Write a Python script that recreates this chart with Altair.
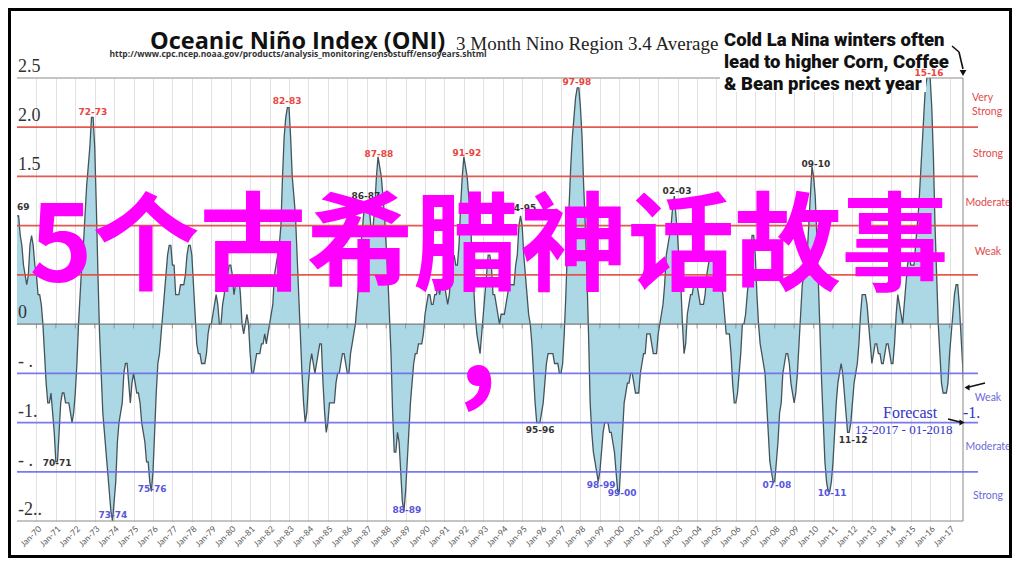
import altair as alt
import pandas as pd

# ---------------- data: ONI monthly values (3-month running means) ----------------
oni_1969_1978 = [
    1.1, 1.1, 0.9, 0.8, 0.6, 0.5, 0.4, 0.5, 0.8, 0.9, 0.8, 0.6,        # 1969
    0.5, 0.3, 0.3, 0.2, 0.0, -0.3, -0.6, -0.8, -0.8, -0.7, -0.9, -1.1,  # 1970
    -1.4, -1.4, -1.1, -0.8, -0.7, -0.7, -0.8, -0.8, -0.8, -0.9, -1.0, -0.9,  # 1971
    -0.7, -0.4, 0.0, 0.3, 0.6, 0.8, 1.1, 1.4, 1.6, 1.8, 2.1, 2.1,      # 1972
    1.8, 1.2, 0.5, -0.1, -0.5, -0.9, -1.1, -1.3, -1.5, -1.7, -1.9, -2.0,  # 1973
    -1.8, -1.6, -1.2, -1.0, -0.9, -0.8, -0.5, -0.4, -0.4, -0.6, -0.8, -0.6,  # 1974
    -0.5, -0.6, -0.7, -0.7, -0.8, -1.0, -1.1, -1.2, -1.4, -1.4, -1.6, -1.7,  # 1975
    -1.5, -1.1, -0.7, -0.4, -0.3, -0.1, 0.1, 0.3, 0.5, 0.7, 0.8, 0.8,  # 1976
    0.6, 0.6, 0.3, 0.3, 0.3, 0.4, 0.4, 0.4, 0.5, 0.7, 0.8, 0.8,        # 1977
    0.7, 0.4, 0.1, -0.2, -0.3, -0.3, -0.4, -0.4, -0.4, -0.3, -0.1, 0.0,  # 1978
]
oni_1979_1988 = [
    0.0, 0.1, 0.2, 0.3, 0.2, 0.0, 0.0, 0.2, 0.3, 0.5, 0.5, 0.6,        # 1979
    0.6, 0.5, 0.3, 0.4, 0.5, 0.5, 0.3, 0.0, -0.1, 0.0, 0.1, 0.0,       # 1980
    -0.3, -0.5, -0.5, -0.4, -0.3, -0.3, -0.3, -0.2, -0.2, -0.1, -0.2, -0.1,  # 1981
    0.0, 0.1, 0.2, 0.5, 0.6, 0.7, 0.8, 1.0, 1.5, 1.9, 2.1, 2.2,        # 1982
    2.2, 1.9, 1.5, 1.3, 1.1, 0.7, 0.3, -0.1, -0.5, -0.8, -1.0, -0.9,   # 1983
    -0.6, -0.4, -0.3, -0.4, -0.5, -0.4, -0.3, -0.2, -0.2, -0.6, -0.9, -1.1,  # 1984
    -1.0, -0.8, -0.8, -0.8, -0.8, -0.6, -0.5, -0.5, -0.4, -0.3, -0.3, -0.4,  # 1985
    -0.5, -0.5, -0.3, -0.2, -0.1, 0.0, 0.2, 0.4, 0.7, 0.9, 1.1, 1.2,   # 1986
    1.2, 1.2, 1.1, 0.9, 1.0, 1.2, 1.5, 1.7, 1.6, 1.5, 1.3, 1.1,        # 1987
    0.8, 0.5, 0.1, -0.3, -0.9, -1.3, -1.3, -1.1, -1.2, -1.5, -1.8, -1.9,  # 1988
]
oni_1989_1998 = [
    -1.7, -1.4, -1.1, -0.8, -0.6, -0.4, -0.3, -0.3, -0.2, -0.2, -0.2, -0.1,  # 1989
    0.1, 0.2, 0.3, 0.3, 0.2, 0.2, 0.3, 0.3, 0.4, 0.3, 0.4, 0.4,        # 1990
    0.4, 0.3, 0.2, 0.3, 0.5, 0.6, 0.7, 0.6, 0.6, 0.8, 1.2, 1.5,        # 1991
    1.7, 1.6, 1.5, 1.3, 1.1, 0.7, 0.4, 0.1, -0.1, -0.2, -0.3, -0.1,    # 1992
    0.1, 0.3, 0.5, 0.7, 0.7, 0.6, 0.3, 0.3, 0.2, 0.1, 0.0, 0.1,        # 1993
    0.1, 0.1, 0.2, 0.3, 0.4, 0.4, 0.4, 0.4, 0.6, 0.7, 1.0, 1.1,        # 1994
    1.0, 0.7, 0.5, 0.3, 0.1, 0.0, -0.2, -0.5, -0.8, -1.0, -1.0, -1.0,  # 1995
    -0.9, -0.8, -0.6, -0.4, -0.3, -0.3, -0.3, -0.3, -0.4, -0.4, -0.4, -0.5,  # 1996
    -0.5, -0.4, -0.1, 0.3, 0.8, 1.2, 1.6, 1.9, 2.1, 2.3, 2.4, 2.4,     # 1997
    2.2, 1.9, 1.4, 1.0, 0.5, -0.1, -0.8, -1.1, -1.3, -1.4, -1.5, -1.6,  # 1998
]
oni_1999_2008 = [
    -1.5, -1.3, -1.1, -1.0, -1.0, -1.0, -1.1, -1.1, -1.2, -1.3, -1.5, -1.7,  # 1999
    -1.7, -1.4, -1.1, -0.8, -0.7, -0.6, -0.6, -0.5, -0.5, -0.6, -0.7, -0.7,  # 2000
    -0.7, -0.5, -0.4, -0.3, -0.3, -0.1, -0.1, -0.1, -0.2, -0.3, -0.3, -0.3,  # 2001
    -0.1, 0.0, 0.1, 0.2, 0.4, 0.7, 0.8, 0.9, 1.0, 1.2, 1.3, 1.1,       # 2002
    0.9, 0.6, 0.4, 0.0, -0.3, -0.2, 0.1, 0.2, 0.3, 0.3, 0.4, 0.4,      # 2003
    0.4, 0.3, 0.2, 0.2, 0.2, 0.3, 0.5, 0.6, 0.7, 0.7, 0.7, 0.7,        # 2004
    0.6, 0.6, 0.4, 0.4, 0.3, 0.1, -0.1, -0.1, -0.1, -0.3, -0.6, -0.8,  # 2005
    -0.8, -0.7, -0.5, -0.3, 0.0, 0.0, 0.1, 0.3, 0.5, 0.7, 0.9, 0.9,    # 2006
    0.7, 0.3, 0.0, -0.2, -0.3, -0.4, -0.5, -0.8, -1.1, -1.4, -1.5, -1.6,  # 2007
    -1.6, -1.4, -1.2, -0.9, -0.8, -0.5, -0.4, -0.3, -0.3, -0.4, -0.6, -0.7,  # 2008
]
oni_2009_2017 = [
    -0.8, -0.7, -0.5, -0.2, 0.1, 0.4, 0.5, 0.5, 0.7, 1.0, 1.3, 1.6,    # 2009
    1.5, 1.3, 0.9, 0.4, -0.1, -0.6, -1.0, -1.4, -1.6, -1.7, -1.7, -1.6,  # 2010
    -1.4, -1.1, -0.8, -0.6, -0.5, -0.4, -0.5, -0.7, -0.9, -1.1, -1.1, -1.0,  # 2011
    -0.8, -0.6, -0.5, -0.4, -0.2, 0.1, 0.3, 0.3, 0.3, 0.2, 0.0, -0.2,  # 2012
    -0.4, -0.3, -0.2, -0.2, -0.3, -0.3, -0.4, -0.4, -0.3, -0.2, -0.2, -0.3,  # 2013
    -0.4, -0.4, -0.2, 0.1, 0.3, 0.2, 0.1, 0.0, 0.2, 0.4, 0.6, 0.7,     # 2014
    0.6, 0.6, 0.6, 0.8, 1.0, 1.2, 1.5, 1.8, 2.1, 2.4, 2.5, 2.6,        # 2015
    2.5, 2.2, 1.7, 1.0, 0.5, 0.0, -0.3, -0.6, -0.7, -0.7, -0.7, -0.6,  # 2016
    -0.3, -0.1, 0.1, 0.3, 0.4, 0.4, 0.2, -0.1, -0.4, -0.7,             # 2017
]
START_YEAR = 1969

# event labels: text, decimal year, value
red_labels = ["72-73", "82-83", "87-88", "91-92", "97-98", "15-16"]
red_years = [1972.91, 1982.90, 1987.63, 1992.16, 1997.82, 2015.94]
red_vals = [2.15, 2.27, 1.73, 1.74, 2.46, 2.55]

black_labels = ["86-87", "94-95", "02-03", "09-10", "70-71", "95-96", "11-12"]
black_years = [1986.96, 1994.99, 2002.97, 2010.12, 1971.06, 1995.92, 2012.03]
black_vals = [1.30, 1.18, 1.35, 1.63, -1.41, -1.08, -1.18]

blue_labels = ["73-74", "75-76", "88-89", "98-99", "99-00", "07-08", "10-11"]
blue_years = [1973.94, 1975.95, 1989.07, 1999.06, 2000.14, 2008.11, 2010.95]
blue_vals = [-1.94, -1.67, -1.89, -1.63, -1.72, -1.63, -1.72]

# thresholds
warm_levels = [0.5, 1.0, 1.5, 2.0]
cold_levels = [-0.5, -1.0, -1.5]
top_band_mid = [2.25]
top_band_text = [["Very", "Strong"]]
warm_band_mid = [1.75, 1.25, 0.75]
warm_band_text = ["Strong", "Moderate", "Weak"]
cold_band_mid = [-0.75, -1.25, -1.75]
cold_band_text = ["Weak", "Moderate", "Strong"]

# y labels
ylab_vals = [2.5, 2.0, 1.5, 0.0, -0.5, -1.0, -1.5, -2.0]
ylab_text = ["2.5", "2.0", "1.5", "0", "- .", "-1.", "- .", "-2.."]

tick_years = list(range(1970, 2018))

# ---------------- build table ----------------
all_vals = oni_1969_1978 + oni_1979_1988 + oni_1989_1998 + oni_1999_2008 + oni_2009_2017
df = pd.DataFrame({
    "t": [START_YEAR + i / 12 for i in range(len(all_vals))],
    "v": all_vals,
})
df["z"] = 0.0

W, H = 946, 443
xscale = alt.Scale(domain=[1969, 2017.69], nice=False, zero=False)
yscale = alt.Scale(domain=[-2.0, 2.5], nice=False, zero=False)
xaxis = alt.Axis(
    values=tick_years, title=None,
    labelExpr="'Jan-' + substring(toString(datum.value), 2, 4)",
    labelAngle=-45, labelAlign="right", labelBaseline="top",
    labelFont="Lato", labelFontSize=8.5, labelColor="#555555", labelPadding=3,
    labelOverlap=False, labelFlush=False, labelBound=False,
    ticks=False, domain=False, grid=True, gridColor="#e2e2e2", gridWidth=1,
)
X = alt.X("t:Q", scale=xscale, axis=xaxis)
Y = alt.Y("v:Q", scale=yscale, axis=None)

one = pd.DataFrame({"k": [0]})

area = alt.Chart(df).mark_area(color="#acd8e6", clip=True).encode(
    x=X, y=Y, y2="z:Q")
line = alt.Chart(df).mark_line(color="#44545a", strokeWidth=1.3, clip=True).encode(x=X, y=Y)

zero = alt.Chart(pd.DataFrame({"v": [0.0]})).mark_rule(color="#7a7a7a", strokeWidth=1.2).encode(y=Y)
zticks = alt.Chart(pd.DataFrame({"t": tick_years, "v": [0.0] * len(tick_years)})).mark_tick(
    color="#7a7a7a", orient="vertical", size=5, thickness=1, yOffset=2).encode(x=X, y=Y)

border_h = alt.Chart(pd.DataFrame({"v": [2.5, -2.0]})).mark_rule(color="#8a8a8a", strokeWidth=1).encode(y=Y)
border_r = alt.Chart(one).mark_rule(color="#8a8a8a", strokeWidth=1).encode(
    x=alt.value(W), y=alt.value(0), y2=alt.value(H))

warm = alt.Chart(pd.DataFrame({"v": warm_levels})).mark_rule(
    color="#e2473f", strokeWidth=1.8, opacity=0.9).encode(
    x=alt.value(0), x2=alt.value(961), y=Y)
cold = alt.Chart(pd.DataFrame({"v": cold_levels})).mark_rule(
    color="#6c6cea", strokeWidth=1.8, opacity=0.9).encode(
    x=alt.value(0), x2=alt.value(961), y=Y)

top_txt = alt.Chart(pd.DataFrame({"v": top_band_mid, "txt": top_band_text})).mark_text(
    font="Lato", fontSize=10.5, color="#e04a4a", align="left", baseline="middle", lineHeight=14, dy=-5
).encode(x=alt.value(955), y=Y, text="txt")
warm_txt = alt.Chart(pd.DataFrame({"v": warm_band_mid, "txt": warm_band_text})).mark_text(
    font="Lato", fontSize=10.5, color="#e04a4a", align="center", baseline="middle", dy=2
).encode(x=alt.value(971), y=Y, text="txt")
cold_txt = alt.Chart(pd.DataFrame({"v": cold_band_mid, "txt": cold_band_text})).mark_text(
    font="Lato", fontSize=10.5, color="#6a6ad8", align="center", baseline="middle"
).encode(x=alt.value(971), y=Y, text="txt")

ylabels = alt.Chart(pd.DataFrame({"v": ylab_vals, "txt": ylab_text})).mark_text(
    font="Liberation Serif", fontSize=18, color="#333333", align="left", baseline="bottom", dy=-2
).encode(x=alt.value(1), y=Y, text="txt")

def peak_layer(labels, years, vals, color):
    d = pd.DataFrame({"t": years, "v": vals, "txt": labels})
    return alt.Chart(d).mark_text(
        font="DejaVu Sans", fontWeight="bold", fontSize=9, color=color,
        align="center", baseline="middle").encode(x=X, y=Y, text="txt")

red_l = peak_layer(red_labels, red_years, red_vals, "#e8453f")
black_l = peak_layer(black_labels, black_years, black_vals, "#333333")
blue_l = peak_layer(blue_labels, blue_years, blue_vals, "#5656dc")
label69 = alt.Chart(one).mark_text(
    text="69", font="DejaVu Sans", fontWeight="bold", fontSize=9, color="#333333",
    align="left", baseline="middle").encode(x=alt.value(0), y=alt.value(129))

# titles
title1 = alt.Chart(one).mark_text(
    text="Oceanic Niño Index (ONI)", font="Open Sans", fontWeight="bold", fontSize=23.5,
    color="#111111", align="left", baseline="alphabetic").encode(x=alt.value(133), y=alt.value(-29))
title2 = alt.Chart(one).mark_text(
    text="3 Month Nino Region 3.4 Average", font="Liberation Serif", fontSize=19,
    color="#222222", align="left", baseline="alphabetic").encode(x=alt.value(439), y=alt.value(-28))
url = alt.Chart(one).mark_text(
    text="http://www.cpc.ncep.noaa.gov/products/analysis_monitoring/ensostuff/ensoyears.shtml",
    font="Open Sans", fontWeight="bold", fontSize=8.5, color="#333333",
    align="center", baseline="alphabetic").encode(x=alt.value(281), y=alt.value(-21))

# annotation box
box = alt.Chart(one).mark_rect(color="white").encode(
    x=alt.value(703), x2=alt.value(909), y=alt.value(-52), y2=alt.value(14))
note = alt.Chart(one).mark_text(
    text=["Cold La Nina winters often", "lead to higher Corn, Coffee", "& Bean prices next year"],
    font="Roboto", fontWeight=900, fontSize=18.5, lineHeight=22, color="#111111",
    align="left", baseline="alphabetic").encode(x=alt.value(707), y=alt.value(-32))
arr1 = alt.Chart(one).mark_rule(color="#111111", strokeWidth=1.6).encode(
    x=alt.value(935), x2=alt.value(942), y=alt.value(-32), y2=alt.value(-26))
arr2 = alt.Chart(one).mark_rule(color="#111111", strokeWidth=1.6).encode(
    x=alt.value(942), x2=alt.value(946), y=alt.value(-26), y2=alt.value(-9))
arr3 = alt.Chart(one).mark_point(shape="triangle-down", filled=True, color="#111111", size=45, opacity=1).encode(
    x=alt.value(946), y=alt.value(-5))

# forecast
fc1 = alt.Chart(one).mark_text(
    text="Forecast", font="Liberation Serif", fontSize=16, color="#3434c4",
    align="left", baseline="alphabetic").encode(x=alt.value(866), y=alt.value(340))
fc2 = alt.Chart(one).mark_text(
    text="-1.", font="Liberation Serif", fontSize=16, color="#3434c4",
    align="left", baseline="alphabetic").encode(x=alt.value(946), y=alt.value(340))
fc3 = alt.Chart(one).mark_text(
    text="12-2017 - 01-2018", font="Liberation Serif", fontSize=13, color="#3434c4",
    align="left", baseline="alphabetic").encode(x=alt.value(838), y=alt.value(356))
fa1 = alt.Chart(one).mark_rule(color="#111111", strokeWidth=1.6).encode(
    x=alt.value(931), x2=alt.value(943), y=alt.value(341), y2=alt.value(344))
fa1h = alt.Chart(one).mark_point(shape="triangle-right", filled=True, color="#111111", size=35, opacity=1).encode(
    x=alt.value(945), y=alt.value(344.5))
fa2 = alt.Chart(one).mark_rule(color="#111111", strokeWidth=1.6).encode(
    x=alt.value(968), x2=alt.value(952), y=alt.value(305), y2=alt.value(309))
fa2h = alt.Chart(one).mark_point(shape="triangle-left", filled=True, color="#111111", size=35, opacity=1).encode(
    x=alt.value(950), y=alt.value(309.5))

# magenta overlay text
mag1 = alt.Chart(one).mark_text(
    text="5个古希腊神话故事", font="Noto Sans CJK SC", fontWeight="bold", fontSize=107,
    color="#ff00ff", align="center", baseline="middle").encode(x=alt.value(472), y=alt.value(172))
mag2 = alt.Chart(one).mark_text(
    text=",", font="Noto Sans CJK SC", fontWeight="bold", fontSize=120,
    color="#ff00ff", align="center", baseline="alphabetic").encode(x=alt.value(461), y=alt.value(308))

frame = alt.Chart(one).mark_rect(filled=False, stroke="black", strokeWidth=6).encode(
    x=alt.value(-9), x2=alt.value(995), y=alt.value(-70), y2=alt.value(480))

chart = alt.layer(
    area, line, zero, zticks, border_h, border_r, warm, cold,
    top_txt, warm_txt, cold_txt, ylabels, black_l, blue_l, label69,
    title1, title2, url, box, note, arr1, arr2, arr3, red_l,
    fc1, fc2, fc3, fa1, fa1h, fa2, fa2h, mag1, mag2, frame,
).properties(
    width=W, height=H,
    autosize=alt.AutoSizeParams(type="none"),
    padding={"left": 9, "top": 70, "right": 49, "bottom": 37},
).configure_view(stroke=None)

chart.save("out.html", embed_options={"renderer": "svg", "actions": False})
